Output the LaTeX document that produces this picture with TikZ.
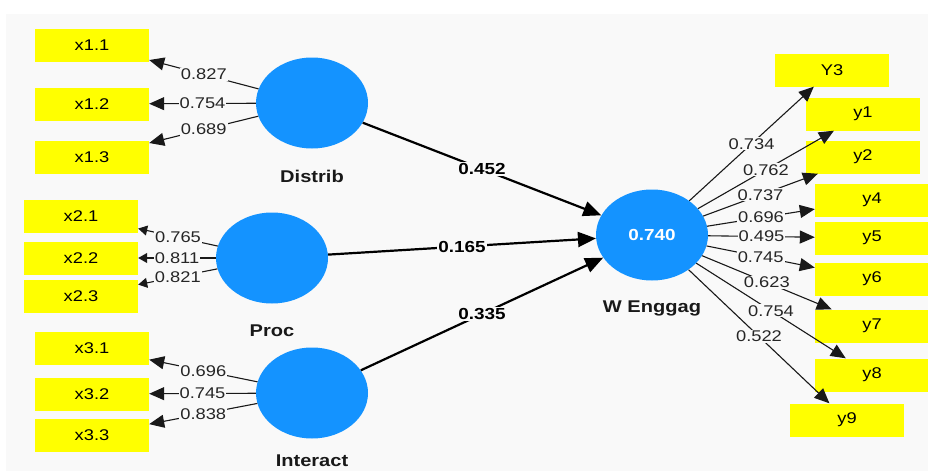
\documentclass[tikz,border=0pt]{standalone}
\usepackage{fontspec}
\setmainfont{Liberation Sans}[FakeStretch=1.18]
\usetikzlibrary{arrows.meta,shapes.geometric}
\definecolor{bggray}{HTML}{F9F9F9}
\definecolor{lvblue}{HTML}{1493FF}
\definecolor{mvyellow}{HTML}{FFFF00}
\begin{document}
\begin{tikzpicture}[
    x=1pt, y=-1pt,
    indicator/.style={rectangle, fill=mvyellow, inner sep=0pt, minimum width=114pt, minimum height=33pt, font=\fontsize{15.5}{16}\selectfont},
    latent/.style={ellipse, fill=lvblue, inner sep=0pt, minimum width=112pt, minimum height=91pt},
    lvname/.style={font=\fontsize{17}{17}\selectfont\bfseries, text=black!90},
    loading/.style={-{Triangle[length=15pt,width=13pt]}, line width=1.1pt, black!90},
    smalltip/.style={-{Triangle[length=9pt,width=10pt]}, line width=1.1pt, black!90},
    path/.style={-{Triangle[length=18pt,width=15pt]}, line width=2.2pt},
    coef/.style={fill=bggray, inner sep=1pt, font=\fontsize{15.5}{16}\selectfont, text=black!85},
    pcoef/.style={fill=bggray, inner sep=1pt, font=\fontsize{16}{16}\selectfont\bfseries}
]
    \useasboundingbox (0,0) rectangle (928,471);
    \fill[white] (0,0) rectangle (928,471);
    \fill[bggray] (6,14) rectangle (928,471);

    % latent variables
    \node[latent] (distrib) at (312,103) {};
    \node[latent] (proc) at (272,258) {};
    \node[latent] (interact) at (312,393) {};
    \node[latent, text=white, font=\fontsize{16}{16}\selectfont\bfseries] (wenggag) at (652,235) {0.740};

    \node[lvname] (distribname) at (312,176) {Distrib};
    \node[lvname] (procname) at (272,331) {Proc};
    \node[lvname] (interactname) at (312,461) {Interact};
    \node[lvname] (wenggagname) at (652,308) {W Enggag};

    % indicators
    \node[indicator] (x11) at (92,45) {x1.1};
    \node[indicator] (x12) at (92,104) {x1.2};
    \node[indicator] (x13) at (92,157) {x1.3};
    \node[indicator] (x21) at (81,216) {x2.1};
    \node[indicator] (x22) at (81,258) {x2.2};
    \node[indicator] (x23) at (81,296) {x2.3};
    \node[indicator] (x31) at (92,348) {x3.1};
    \node[indicator] (x32) at (92,394) {x3.2};
    \node[indicator] (x33) at (92,435) {x3.3};

    \node[indicator] (Y3) at (832,70) {Y3};
    \node[indicator] (y1) at (863,114) {y1};
    \node[indicator] (y2) at (863,157) {y2};
    \node[indicator] (y4) at (872,200) {y4};
    \node[indicator] (y5) at (872,238) {y5};
    \node[indicator] (y6) at (872,279) {y6};
    \node[indicator] (y7) at (872,326) {y7};
    \node[indicator] (y8) at (872,375) {y8};
    \node[indicator] (y9) at (847,420) {y9};

    % outer loadings
    \draw[loading] (distrib) -- (x11) node[midway, coef] {0.827};
    \draw[loading] (distrib) -- (x12) node[midway, coef] {0.754};
    \draw[loading] (distrib) -- (x13) node[midway, coef] {0.689};
    \draw[smalltip] (proc) -- (x21) node[midway, coef] {0.765};
    \draw[smalltip] (proc) -- (x22) node[midway, coef] {0.811};
    \draw[smalltip] (proc) -- (x23) node[midway, coef] {0.821};
    \draw[loading] (interact) -- (x31) node[midway, coef] {0.696};
    \draw[loading] (interact) -- (x32) node[midway, coef] {0.745};
    \draw[loading] (interact) -- (x33) node[midway, coef] {0.838};

    \draw[loading] (wenggag) -- (Y3) node[midway, coef] {0.734};
    \draw[loading] (wenggag) -- (y1) node[midway, coef] {0.762};
    \draw[loading] (wenggag) -- (y2) node[midway, coef] {0.737};
    \draw[loading] (wenggag) -- (y4) node[midway, coef] {0.696};
    \draw[loading] (wenggag) -- (y5) node[midway, coef] {0.495};
    \draw[loading] (wenggag) -- (y6) node[midway, coef] {0.745};
    \draw[loading] (wenggag) -- (y7) node[midway, coef] {0.623};
    \draw[loading] (wenggag) -- (y8) node[midway, coef] {0.754};
    \draw[loading] (wenggag) -- (y9) node[midway, coef] {0.522};

    % path coefficients
    \draw[path] (distrib) -- (wenggag) node[midway, pcoef] {0.452};
    \draw[path] (proc) -- (wenggag) node[midway, pcoef] {0.165};
    \draw[path] (interact) -- (wenggag) node[midway, pcoef] {0.335};
\end{tikzpicture}
\end{document}
